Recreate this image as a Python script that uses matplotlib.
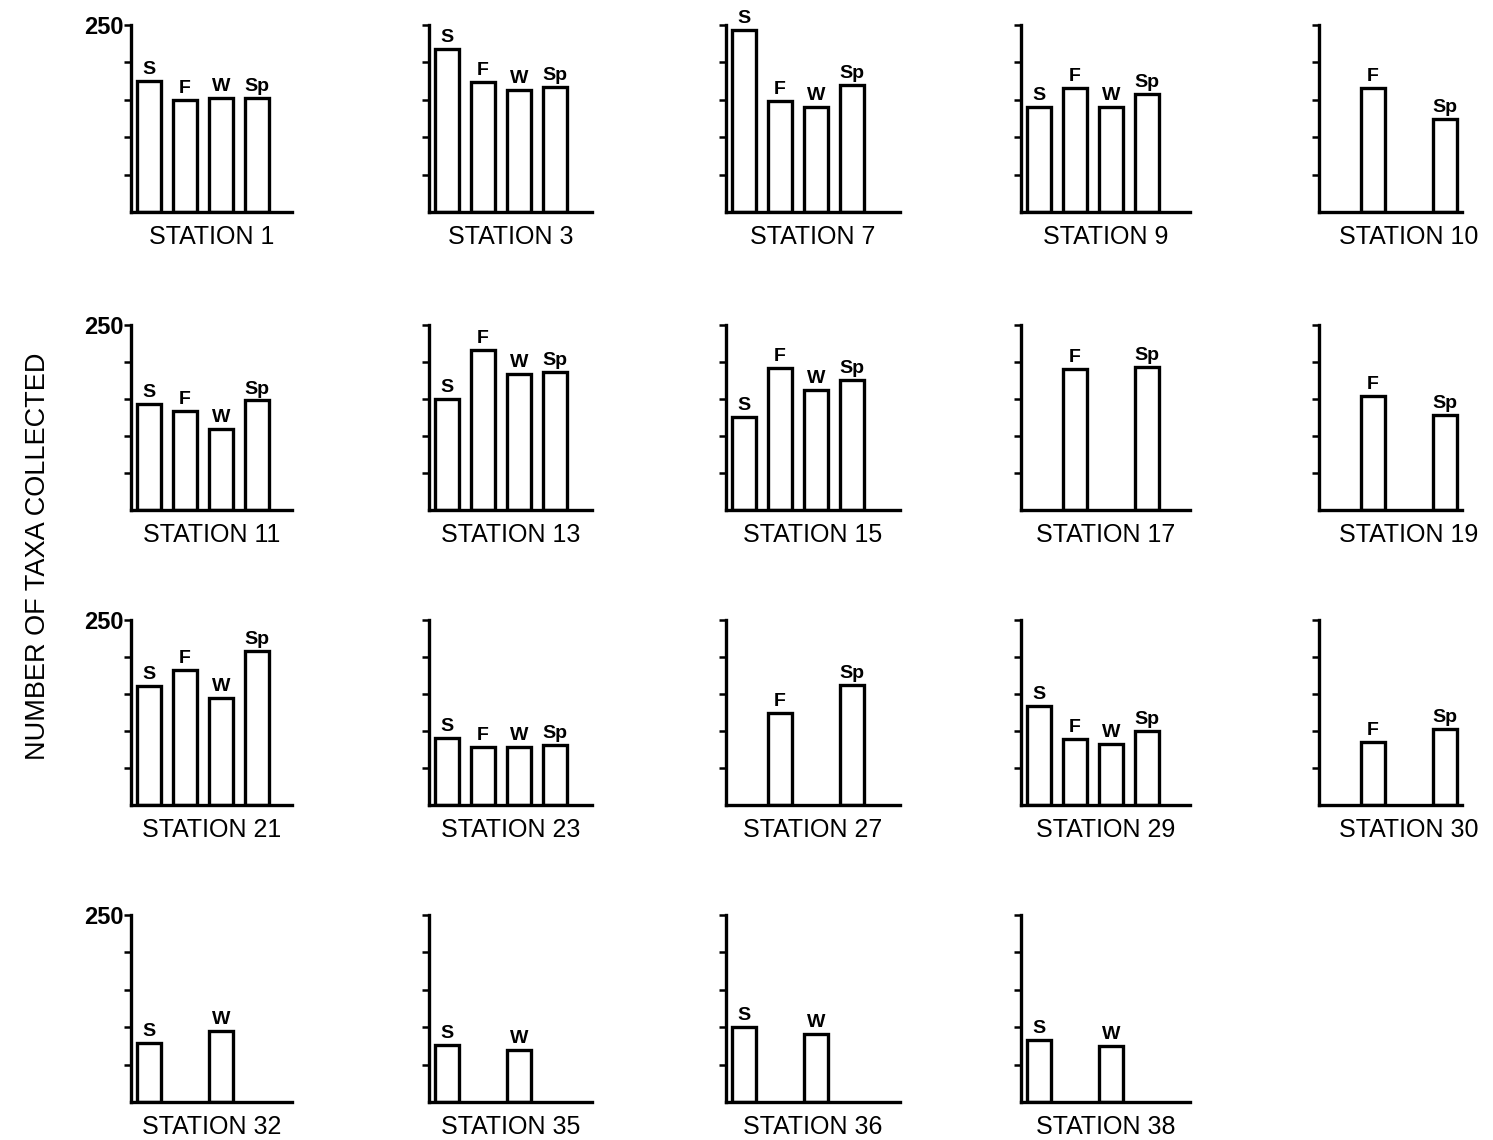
import numpy as np
import matplotlib.pyplot as plt

plt.rcParams['font.family'] = ['Liberation Sans', 'DejaVu Sans']

nan = np.nan
stations = [1, 3, 7, 9, 10, 11, 13, 15, 17, 19, 21, 23, 27, 29, 30, 32, 35, 36, 38]
seasons = ['S', 'F', 'W', 'Sp']
summer = [175, 218, 243, 140, nan, 143, 150, 126, nan, nan, 161, 91, nan, 134, nan, 79, 76, 100, 83]
fall = [150, 174, 148, 166, 166, 134, 216, 192, 190, 154, 183, 78, 125, 89, 85, nan, nan, nan, nan]
winter = [153, 163, 140, 140, nan, 109, 184, 162, nan, nan, 144, 78, nan, 82, nan, 95, 70, 91, 75]
spring = [152, 167, 170, 158, 124, 148, 186, 176, 193, 128, 208, 81, 162, 100, 103, nan, nan, nan, nan]

W, H = 1493, 1140
col_left = [131, 429, 726, 1021, 1319]
col_right = [292, 592, 900, 1190, 1462]
label_shift = [0, 0, 0, 0, 18]  # px, station labels sit right of centre in last column
row_top = [25, 325, 620, 915]
row_base = [212, 510, 805, 1102]
unit = 36.0  # px per bar slot

fig = plt.figure(figsize=(W / 100, H / 100), dpi=100)

for i, st in enumerate(stations):
    r, c = divmod(i, 5)
    l, rr = col_left[c], col_right[c]
    t, b = row_top[r], row_base[r]
    ax = fig.add_axes([l / W, 1 - b / H, (rr - l) / W, (b - t) / H])
    vals = [summer[i], fall[i], winter[i], spring[i]]
    for k, v in enumerate(vals):
        if np.isnan(v):
            continue
        ax.bar(k, v, width=0.66, color='white', edgecolor='black', linewidth=2.4)
        ax.text(k, v + 4, seasons[k], ha='center', va='bottom',
                fontsize=14, fontweight='bold')
    ax.set_xlim(-0.5, -0.5 + (rr - l) / unit)
    ax.set_ylim(0, 250)
    for s in ['top', 'right']:
        ax.spines[s].set_visible(False)
    for s in ['left', 'bottom']:
        ax.spines[s].set_linewidth(2.4)
    ax.set_xticks([])
    ax.set_yticks([50, 100, 150, 200, 250])
    ax.tick_params(axis='y', direction='out', length=5, width=1.8)
    if c == 0:
        ax.set_yticklabels(['', '', '', '', '250'], fontsize=17, fontweight='bold')
        ax.tick_params(axis='y', pad=0)
    else:
        ax.set_yticklabels([])
    cx = 0.5 + label_shift[c] / (rr - l)
    ax.text(cx, -0.07, f'STATION {st}', transform=ax.transAxes,
            ha='center', va='top', fontsize=18)

fig.text(38 / W, 1 - 556 / H, 'NUMBER OF TAXA COLLECTED', rotation=90,
         ha='center', va='center', fontsize=19.5)

fig.savefig('out.png', dpi=100)
